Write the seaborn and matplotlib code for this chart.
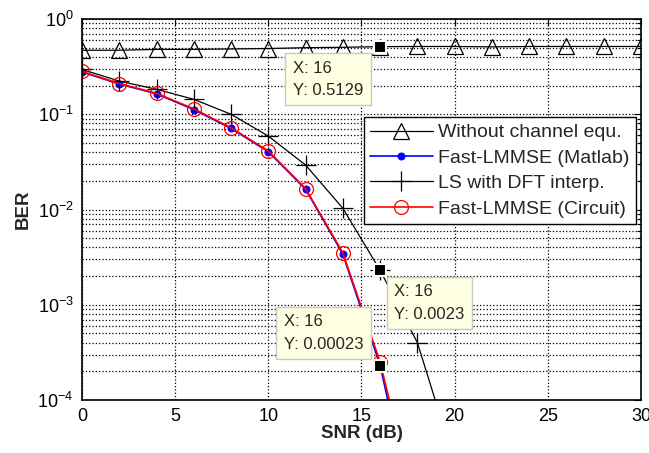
import seaborn as sns
import matplotlib.pyplot as plt
from matplotlib.ticker import LogLocator, NullFormatter
import pandas as pd
import numpy as np

snr_all = [0, 2, 4, 6, 8, 10, 12, 14, 16, 18, 20, 22, 24, 26, 28, 30]
ber_no_eq = [0.47, 0.47, 0.48, 0.48, 0.485, 0.49, 0.50, 0.505, 0.5129,
             0.515, 0.515, 0.51, 0.515, 0.515, 0.515, 0.515]

snr_lmmse = [0, 2, 4, 6, 8, 10, 12, 14, 16, 18]
ber_matlab = [0.278, 0.208, 0.164, 0.112, 0.071, 0.0405, 0.0163, 0.0034, 0.00023, 0.000004]
ber_circuit = [0.282, 0.210, 0.166, 0.114, 0.072, 0.0412, 0.0166, 0.0035, 0.00025, 0.000006]

snr_ls = [0, 2, 4, 6, 8, 10, 12, 14, 16, 18, 20]
ber_ls = [0.296, 0.223, 0.183, 0.1435, 0.1, 0.059, 0.0293, 0.0103, 0.0023, 0.0004, 0.000022]

tips = [(16, 0.5129, "X: 16\nY: 0.5129"),
        (16, 0.0023, "X: 16\nY: 0.0023"),
        (16, 0.00023, "X: 16\nY: 0.00023")]

sns.set_style("white")
plt.rcParams['font.family'] = ['Liberation Sans', 'DejaVu Sans']
plt.rcParams['mathtext.fontset'] = 'custom'
plt.rcParams['mathtext.rm'] = 'Liberation Sans'
plt.rcParams['mathtext.it'] = 'Liberation Sans'

fig = plt.figure(figsize=(6.49, 4.53), dpi=100)
ax = fig.add_axes([0.1263, 0.117, 0.8614, 0.841])

df_no = pd.DataFrame({'snr': snr_all, 'ber': ber_no_eq})
df_mat = pd.DataFrame({'snr': snr_lmmse, 'ber': ber_matlab})
df_ls = pd.DataFrame({'snr': snr_ls, 'ber': ber_ls})
df_cir = pd.DataFrame({'snr': snr_lmmse, 'ber': ber_circuit})

sns.lineplot(data=df_no, x='snr', y='ber', ax=ax, color='black', lw=0.9,
             marker='^', markersize=12, markerfacecolor='none',
             markeredgecolor='black', markeredgewidth=0.9,
             label='Without channel equ.')
sns.lineplot(data=df_mat, x='snr', y='ber', ax=ax, color='blue', lw=1.2,
             marker='o', markersize=5, markerfacecolor='blue',
             markeredgecolor='blue', label='Fast-LMMSE (Matlab)')
sns.lineplot(data=df_ls, x='snr', y='ber', ax=ax, color='black', lw=0.9,
             marker='+', markersize=15, markeredgewidth=0.9,
             markeredgecolor='black', markerfacecolor='black',
             label='LS with DFT interp.')
sns.lineplot(data=df_cir, x='snr', y='ber', ax=ax, color='red', lw=1.2,
             marker='o', markersize=10, markerfacecolor='none',
             markeredgecolor='red', markeredgewidth=0.9,
             label='Fast-LMMSE (Circuit)')

ax.set_yscale('log')
ax.set_xlim(0, 30)
ax.set_ylim(1e-4, 1)
ax.set_xticks([0, 5, 10, 15, 20, 25, 30])
ax.yaxis.set_major_locator(LogLocator(base=10, numticks=10))
ax.yaxis.set_minor_locator(LogLocator(base=10, subs=np.arange(2, 10), numticks=20))
ax.yaxis.set_minor_formatter(NullFormatter())

ax.grid(True, which='major', axis='both', color='black', linestyle=':', lw=0.9)
ax.grid(True, which='minor', axis='y', color='black', linestyle=':', lw=0.9)
ax.tick_params(which='both', direction='in', top=True, right=True,
               labelsize=13, colors='black', pad=6)
ax.tick_params(which='major', length=5, width=0.8)
ax.tick_params(which='minor', length=3, width=0.8)
for s in ax.spines.values():
    s.set_visible(True)
    s.set_color('black')
    s.set_linewidth(1.2)

ax.set_xlabel('SNR (dB)', fontsize=13.5, fontweight='bold', labelpad=0)
ax.set_ylabel('BER', fontsize=13.5, fontweight='bold', labelpad=4)

# data tips
offsets = [((-17, -14), 'right', 'top'),
           ((14, -14), 'left', 'top'),
           ((-17, 14), 'right', 'bottom')]
for (x, y, txt), (off, ha, va) in zip(tips, offsets):
    ax.plot([x], [y], marker='s', color='black', markersize=8,
            markeredgecolor='#fffff0', markeredgewidth=1.5, zorder=6)
    ax.annotate(txt, (x, y), xytext=off, textcoords='offset pixels',
                ha=ha, va=va, multialignment='left', fontsize=12,
                linespacing=1.6, zorder=7,
                bbox=dict(boxstyle='square,pad=0.45', fc='#ffffe1',
                          ec='#c8c8c8', lw=1))

leg = ax.legend(loc='upper right', bbox_to_anchor=(0.991, 0.743),
                fontsize=14, frameon=True, fancybox=False,
                borderpad=0.35, labelspacing=0.4, handlelength=3.2,
                handletextpad=0.27, borderaxespad=0)
leg.get_frame().set_edgecolor('black')
leg.get_frame().set_linewidth(1.0)
leg.get_frame().set_alpha(1)
leg.set_zorder(8)

fig.savefig('out.png', dpi=100)
